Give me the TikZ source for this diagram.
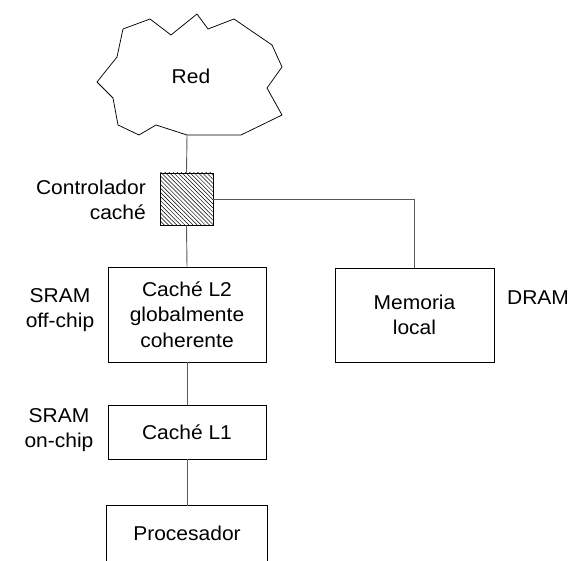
\documentclass[tikz,border=0pt]{standalone}
\usepackage{fontspec}
\setmainfont{Liberation Sans}[FakeStretch=1.05]
\usetikzlibrary{patterns.meta}
\begin{document}
\begin{tikzpicture}[x=1pt,y=-1pt,
  every node/.style={font=\fontsize{20}{25.5}\selectfont, inner sep=0pt},
  box/.style={draw=black, line width=0.75pt, minimum width=#1},
  lbl/.style={align=center},
  conn/.style={draw=black!65, line width=0.9pt}]
\useasboundingbox (0,0) rectangle (573,561);
% cloud
\draw[line width=0.75pt, line join=round] (123,29) -- (150,19) -- (171,35) -- (197,14) -- (208,29) -- (234,19)
  -- (272,45) -- (282,67) -- (267,88) -- (282,115) -- (241,135) -- (187,135) -- (156,125) -- (139,135)
  -- (118,125) -- (113,98) -- (97,82) -- (117,57) -- cycle;
\node (red) at (191,76) {Red};
\coordinate (cloudb) at (187,135);
% controller
\node[draw=black, line width=0.75pt, pattern={Lines[angle=-45, distance=2.9pt, line width=0.5pt]}, minimum width=53, minimum height=52] (ctrl) at (186.5,199) {};
\node[align=right, anchor=east] (ctrllbl) at (146,200) {Controlador\\caché};
% boxes
\node[box=158, minimum height=95, align=center] (l2) at (187,314.5) {Caché L2\\globalmente\\coherente};
\node[box=159, minimum height=94, align=center] (mem) at (414.5,315) {Memoria\\local};
\node[box=158, minimum height=54] (l1) at (187,432) {Caché L1};
\node[minimum width=160, minimum height=55] (proc) at (187,533.5) {Procesador};
\draw[line width=0.75pt] (proc.south west) -- (proc.north west) -- (proc.north east) -- (proc.south east);
% labels
\node[lbl] (offchip) at (60,310) {SRAM\\off-chip};
\node[lbl] (onchip) at (59,430) {SRAM\\on-chip};
\node (dram) at (538,298) {DRAM};
% connectors
\draw[conn] (cloudb) -- (ctrl.north);
\draw[conn] (ctrl.south) -- (l2.north);
\draw[conn] (ctrl.east) -| (mem.north);
\draw[conn] (l2.south) -- (l1.north);
\draw[conn] (l1.south) -- (proc.north);
\end{tikzpicture}
\end{document}
